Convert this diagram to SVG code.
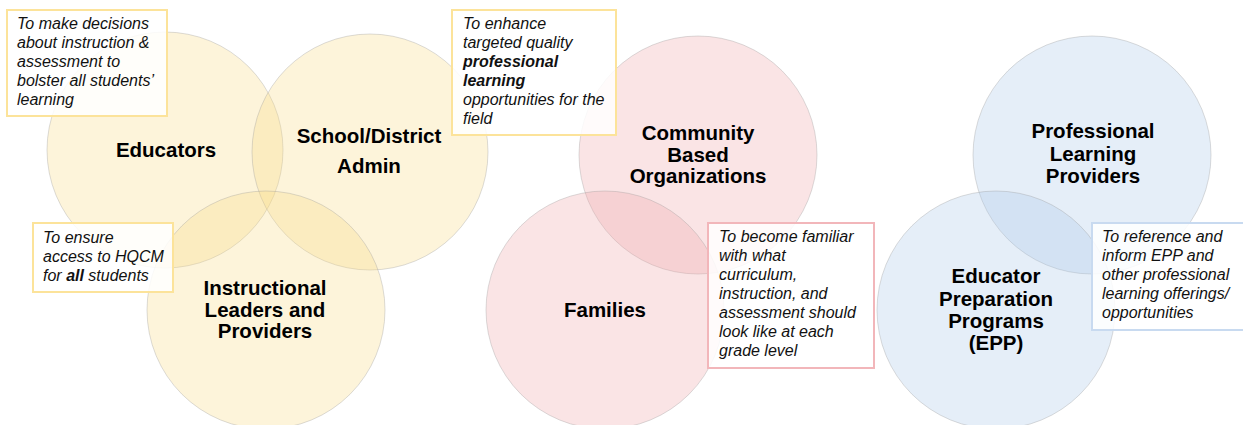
<svg xmlns="http://www.w3.org/2000/svg" width="1243" height="425" viewBox="0 0 1243 425">
<style>
.c{stroke:#9a9a9a;stroke-opacity:0.35;stroke-width:1}
.y{fill:#F9DC85;fill-opacity:0.3}
.p{fill:#EFA5AA;fill-opacity:0.3}
.b{fill:#A9C7E8;fill-opacity:0.3}
.lbl{font-family:"Liberation Sans",Arial,sans-serif;font-weight:bold;font-size:20.5px;fill:#000;text-anchor:middle}
.note{font-family:"Liberation Sans",Arial,sans-serif;font-style:italic;font-size:16px;fill:#111}
.box{fill:#fff;fill-opacity:0.85;stroke-width:2}
.by{stroke:#FCE39A}
.bp{stroke:#F2B6BA}
.bb{stroke:#C8DAF0}
</style>
<rect width="1243" height="425" fill="#fff"/>
<g id="educators"><circle class="c y" cx="165" cy="150" r="118"/></g>
<g id="admin"><circle class="c y" cx="370" cy="152" r="118"/></g>
<g id="instructional"><circle class="c y" cx="266" cy="310" r="119"/></g>
<g id="cbo"><circle class="c p" cx="698" cy="155" r="119"/></g>
<g id="families"><circle class="c p" cx="605" cy="310" r="119"/></g>
<g id="plp"><circle class="c b" cx="1092" cy="155" r="119"/></g>
<g id="epp"><circle class="c b" cx="996" cy="310" r="119"/></g>
<g id="labels">
<text class="lbl" x="166" y="157">Educators</text>
<text class="lbl" x="369" y="143">School/District</text>
<text class="lbl" x="369" y="173">Admin</text>
<text class="lbl" x="265" y="295">Instructional</text>
<text class="lbl" x="265" y="317">Leaders and</text>
<text class="lbl" x="265" y="338">Providers</text>
<text class="lbl" x="698" y="140">Community</text>
<text class="lbl" x="698" y="162">Based</text>
<text class="lbl" x="698" y="183">Organizations</text>
<text class="lbl" x="605" y="317">Families</text>
<text class="lbl" x="1093" y="138">Professional</text>
<text class="lbl" x="1093" y="161">Learning</text>
<text class="lbl" x="1093" y="183">Providers</text>
<text class="lbl" x="996" y="283">Educator</text>
<text class="lbl" x="996" y="306">Preparation</text>
<text class="lbl" x="996" y="328">Programs</text>
<text class="lbl" x="996" y="350">(EPP)</text>
</g>
<g id="note-educators">
<rect class="box by" x="7" y="10" width="160" height="106"/>
<text class="note" x="17" y="29">To make decisions</text>
<text class="note" x="17" y="48">about instruction &amp;</text>
<text class="note" x="17" y="67">assessment to</text>
<text class="note" x="17" y="86">bolster all students’</text>
<text class="note" x="17" y="105">learning</text>
</g>
<g id="note-instructional">
<rect class="box by" x="33" y="223" width="140" height="69"/>
<text class="note" x="43" y="243">To ensure</text>
<text class="note" x="43" y="262">access to HQCM</text>
<text class="note" x="43" y="281">for <tspan font-weight="bold">all</tspan> students</text>
</g>
<g id="note-admin">
<rect class="box by" x="452" y="10" width="164" height="125"/>
<text class="note" x="463" y="29">To enhance</text>
<text class="note" x="463" y="48">targeted quality</text>
<text class="note" x="463" y="67" font-weight="bold">professional</text>
<text class="note" x="463" y="86" font-weight="bold">learning</text>
<text class="note" x="463" y="105">opportunities for the</text>
<text class="note" x="463" y="124">field</text>
</g>
<g id="note-families">
<rect class="box bp" x="708" y="223" width="166" height="145"/>
<text class="note" x="719" y="242">To become familiar</text>
<text class="note" x="719" y="261">with what</text>
<text class="note" x="719" y="280">curriculum,</text>
<text class="note" x="719" y="299">instruction, and</text>
<text class="note" x="719" y="318">assessment should</text>
<text class="note" x="719" y="337">look like at each</text>
<text class="note" x="719" y="356">grade level</text>
</g>
<g id="note-epp">
<rect class="box bb" x="1092" y="223" width="152" height="107"/>
<text class="note" x="1102" y="242">To reference and</text>
<text class="note" x="1102" y="261">inform EPP and</text>
<text class="note" x="1102" y="280">other professional</text>
<text class="note" x="1102" y="299">learning offerings/</text>
<text class="note" x="1102" y="318">opportunities</text>
</g>
<g id="connectors"/>
</svg>
